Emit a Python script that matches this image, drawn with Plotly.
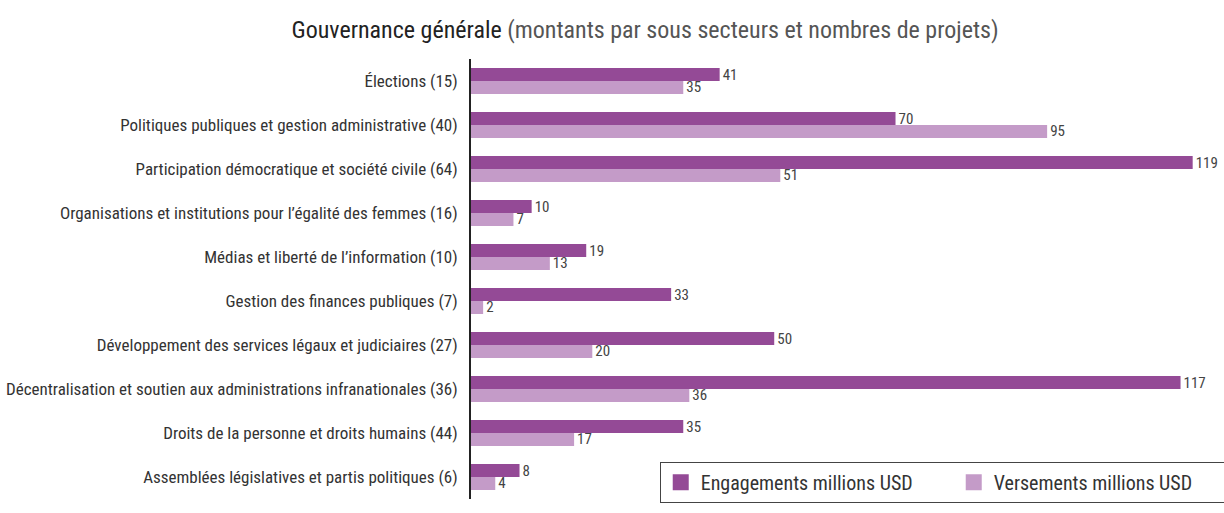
import plotly.graph_objects as go

categories = [
    "Élections (15)",
    "Politiques publiques et gestion administrative (40)",
    "Participation démocratique et société civile (64)",
    "Organisations et institutions pour l’égalité des femmes (16)",
    "Médias et liberté de l’information (10)",
    "Gestion des finances publiques (7)",
    "Développement des services légaux et judiciaires (27)",
    "Décentralisation et soutien aux administrations infranationales (36)",
    "Droits de la personne et droits humains (44)",
    "Assemblées législatives et partis politiques (6)",
]
engagements = [41, 70, 119, 10, 19, 33, 50, 117, 35, 8]
versements = [35, 95, 51, 7, 13, 2, 20, 36, 17, 4]
series_names = ["Engagements millions USD", "Versements millions USD"]

FONT = "Liberation Sans Narrow, Roboto Condensed, Arial Narrow, sans-serif"
DARK = "#944a96"
LIGHT = "#c49bc8"

fig = go.Figure()
for name, vals, col in [(series_names[0], engagements, DARK),
                        (series_names[1], versements, LIGHT)]:
    fig.add_trace(go.Bar(
        y=categories, x=vals, orientation="h", name=name, showlegend=False,
        marker=dict(color=col, line=dict(width=0)),
        text=[str(v) for v in vals], textposition="outside", cliponaxis=False,
        constraintext="none",
        textfont=dict(family=FONT, size=15, color="#444"),
    ))
# legend-only entries with larger square swatches
for name, col in [(series_names[0], DARK), (series_names[1], LIGHT)]:
    fig.add_trace(go.Scatter(
        x=[None], y=[None], mode="markers", name=name,
        marker=dict(symbol="square", size=16, color=col),
    ))

fig.update_layout(
    width=1224, height=513,
    margin=dict(l=471, r=1, t=59, b=14, autoexpand=False),
    paper_bgcolor="white", plot_bgcolor="white",
    barmode="group", bargap=0.41, bargroupgap=0,
    font=dict(family=FONT, color="#333"),
    title=dict(
        text="Gouvernance générale <span style='color:#555'>(montants par sous secteurs et nombres de projets)</span>",
        x=0.527, xanchor="center", xref="container", y=0.942, yanchor="middle",
        font=dict(family=FONT, size=24, color="#222"),
    ),
    xaxis=dict(range=[0, 124], showticklabels=False, showgrid=False, zeroline=False,
               showline=False, ticks="", automargin=False),
    yaxis=dict(autorange="reversed", showgrid=False, zeroline=False,
               showline=True, linecolor="#222", linewidth=2, ticks="",
               ticklabelstandoff=8, automargin=False,
               tickfont=dict(family=FONT, size=17, color="#333")),
    legend=dict(
        orientation="h", xref="container", yref="container",
        x=0.539, xanchor="left", y=0.10, yanchor="top",
        bordercolor="#444", borderwidth=1, bgcolor="white",
        font=dict(family=FONT, size=20, color="#333"),
        entrywidth=248, itemwidth=30, traceorder="normal",
    ),
)

fig.write_html("out.html", config={"displayModeBar": False},
               post_script="document.body.style.margin='0';document.body.style.overflow='hidden';")
